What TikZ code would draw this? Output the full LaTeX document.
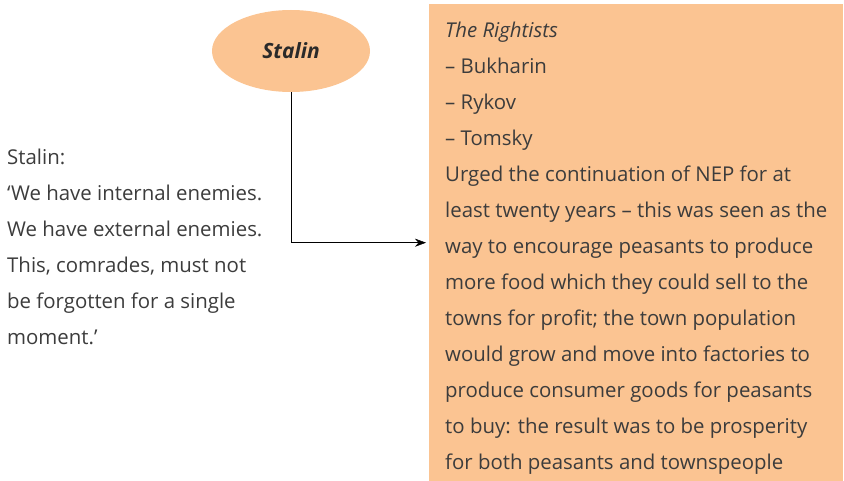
\documentclass[tikz,border=0pt]{standalone}
\usepackage{fontspec}
\setmainfont{Open Sans}
\usetikzlibrary{shapes.geometric,arrows.meta,positioning}
\definecolor{peach}{HTML}{FBC492}
\definecolor{inkgray}{HTML}{3C3C3C}
\tikzset{
  leader/.style={ellipse,fill=peach,minimum width=158pt,minimum height=82pt,
    font=\fontsize{21}{36}\selectfont\bfseries\itshape,text=inkgray!70!black},
  factionbox/.style={rectangle,fill=peach,minimum width=414pt,minimum height=477pt,
    anchor=north west,inner sep=0pt},
  plain/.style={align=left,inner sep=0pt,anchor=north west,text=inkgray,
    font=\fontsize{20.4}{36}\selectfont},
  link/.style={-{Stealth[length=11pt,width=8pt]},thin,black}
}
\begin{document}
\begin{tikzpicture}[x=1pt,y=-1pt]
  \useasboundingbox (0,0) rectangle (844,481);

  %----------------------------------------------------------------
  \node [leader] (stalin) at (291,51) {Stalin};

  \node [factionbox] (rightists) at (429,4) {};
  \node [plain] (rtext) at (445,22) {\textit{The Rightists}\\
    -- Bukharin\\
    -- Rykov\\
    -- Tomsky\\
    Urged the continuation of NEP for at\\
    least twenty years -- this was seen as the\\
    way to encourage peasants to produce\\
    more food which they could sell to the\\
    towns for profit; the town population\\
    would grow and move into factories to\\
    produce consumer goods for peasants\\
    to buy: the result was to be prosperity\\
    for both peasants and townspeople};

  %----------------------------------------------------------------
  \node [plain] (quote) at (7,149) {Stalin:\\
    `We have internal enemies.\\
    We have external enemies.\\
    This, comrades, must not\\
    be forgotten for a single\\
    moment.'};

  \draw [link] (stalin.south) |- ([xshift=-3pt]rightists.west);

\end{tikzpicture}
\end{document}
